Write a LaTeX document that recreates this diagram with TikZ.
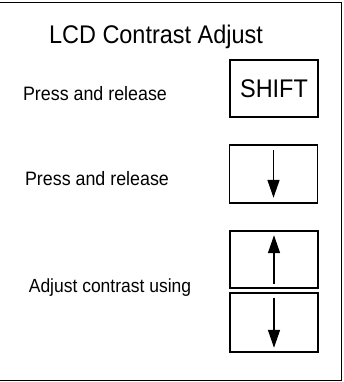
\documentclass[tikz,border=0pt]{standalone}
\usepackage{fontspec}
\setmainfont{Liberation Sans}[FakeStretch=0.92]
\usetikzlibrary{arrows.meta}

\begin{document}
\begin{tikzpicture}[x=1pt,y=-1pt,
	label/.style={anchor=base,inner sep=0pt,font=\fontsize{19.4}{22}\selectfont},
	keybox/.style={draw,line width=1.6pt,minimum width=88pt,inner sep=0pt,font=\fontsize{25.5}{28}\selectfont},
	keyarrow/.style={line width=1.5pt,-{Triangle[length=18pt,width=12pt]}}]
				\useasboundingbox (0,0) rectangle (343,382);
				\draw[line width=1.8pt] (0,2.5) -- (341.5,2.5) -- (341.5,380.5) -- (0,380.5);
				\node[anchor=base,inner sep=0pt,font=\fontsize{25.5}{28}\selectfont] (title) at (156,43.3) {LCD Contrast Adjust};
				\node[label] (press1) at (95,100.5) {Press and release};
				\node[label] (press2) at (97,185.5) {Press and release};
				\node[label,font=\fontsize{19}{22}\selectfont] (adjust) at (110,292.7) {Adjust contrast using};
				\node[keybox,minimum height=57pt] (shift) at (274,88.5) {SHIFT};
				\node[keybox,minimum height=58pt] (down1) at (273.5,174) {};
				\node[keybox,minimum height=57pt] (up) at (274,259.5) {};
				\node[keybox,minimum height=59pt] (down2) at (274,322.5) {};
				\draw[keyarrow] ([yshift=-6pt]down1.north) -- ([yshift=6pt]down1.south);
				\draw[keyarrow] ([yshift=5pt]up.south) -- ([yshift=-5pt]up.north);
				\draw[keyarrow] ([yshift=-6pt]down2.north) -- ([yshift=5pt]down2.south);
			\end{tikzpicture}
\end{document}
